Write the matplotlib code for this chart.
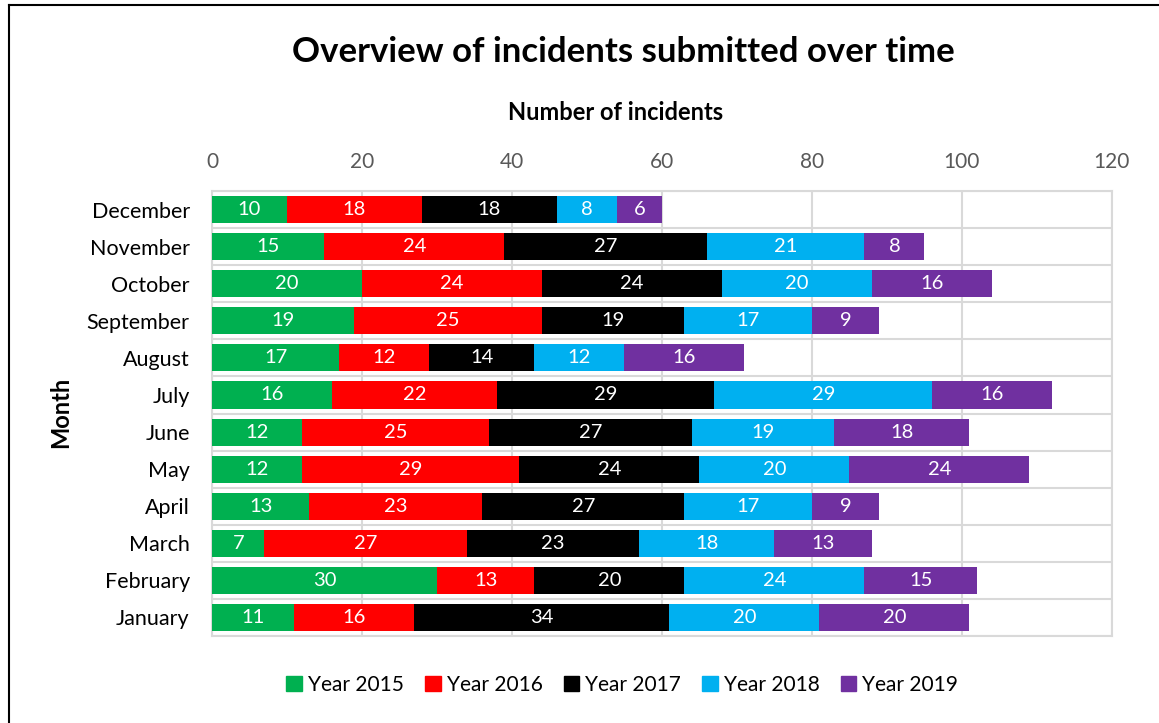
import matplotlib.pyplot as plt
from matplotlib.patches import Patch
from matplotlib.lines import Line2D
import numpy as np

plt.rcParams['font.family'] = ['Lato', 'DejaVu Sans']

months = ['January', 'February', 'March', 'April', 'May', 'June', 'July',
          'August', 'September', 'October', 'November', 'December']
years = ['Year 2015', 'Year 2016', 'Year 2017', 'Year 2018', 'Year 2019']
y2015 = [11, 30, 7, 13, 12, 12, 16, 17, 19, 20, 15, 10]
y2016 = [16, 13, 27, 23, 29, 25, 22, 12, 25, 24, 24, 18]
y2017 = [34, 20, 23, 27, 24, 27, 29, 14, 19, 24, 27, 18]
y2018 = [20, 24, 18, 17, 20, 19, 29, 12, 17, 20, 21, 8]
y2019 = [20, 15, 13, 9, 24, 18, 16, 16, 9, 16, 8, 6]
colors = ['#00B050', '#FF0000', '#000000', '#00B0F0', '#7030A0']

fig = plt.figure(figsize=(11.59, 7.23), dpi=100)
ax = fig.add_axes([0.1829, 0.1203, 0.7765, 0.6155])

y = np.arange(len(months))
left = np.zeros(len(months))
for name, vals, c in zip(years, [y2015, y2016, y2017, y2018, y2019], colors):
    vals = np.array(vals)
    ax.barh(y, vals, left=left, height=0.73, color=c, label=name, zorder=3)
    for yi, l, v in zip(y, left, vals):
        ax.text(l + v / 2, yi, str(v), ha='center', va='center',
                color='white', fontsize=14.5, zorder=4)
    left = left + vals

ax.set_xlim(0, 120)
ax.set_ylim(-0.5, len(months) - 0.5)
ax.set_xticks(np.arange(0, 121, 20))
ax.xaxis.tick_top()
ax.set_yticks(y)
ax.set_yticklabels(months)
ax.set_yticks(np.arange(-0.5, len(months), 1), minor=True)
ax.tick_params(axis='x', length=0, labelsize=15, labelcolor='#595959', pad=14)
ax.tick_params(axis='y', which='both', length=0, labelsize=15.5, pad=16)
ax.grid(axis='x', color='#D9D9D9', lw=1.5, zorder=0)
ax.grid(axis='y', which='minor', color='#D9D9D9', lw=1.5, zorder=0)
for s in ax.spines.values():
    s.set_color('#D9D9D9')
    s.set_linewidth(1.5)

fig.text(0.531, 0.845, 'Number of incidents', ha='center', va='center',
         fontsize=17, fontweight='bold')
fig.text(0.052, 0.429, 'Month', ha='center', va='center', rotation=90,
         fontsize=17, fontweight='bold')

fig.text(0.538, 0.928, 'Overview of incidents submitted over time',
         ha='center', va='center', fontsize=25, fontweight='bold')

handles = [Patch(color=c, label=n) for n, c in zip(years, colors)]
fig.legend(handles=handles, loc='center', bbox_to_anchor=(0.537, 0.053), ncol=5,
           frameon=False, fontsize=15, handlelength=0.75, handleheight=0.75,
           handletextpad=0.3, columnspacing=1.0)

# outer chart border
fig.add_artist(Line2D([0.0075, 0.0075], [0, 0.993], color='black', lw=1.5,
                      transform=fig.transFigure))
fig.add_artist(Line2D([0.0075, 1], [0.993, 0.993], color='black', lw=1.5,
                      transform=fig.transFigure))

fig.savefig('out.png', dpi=100)
